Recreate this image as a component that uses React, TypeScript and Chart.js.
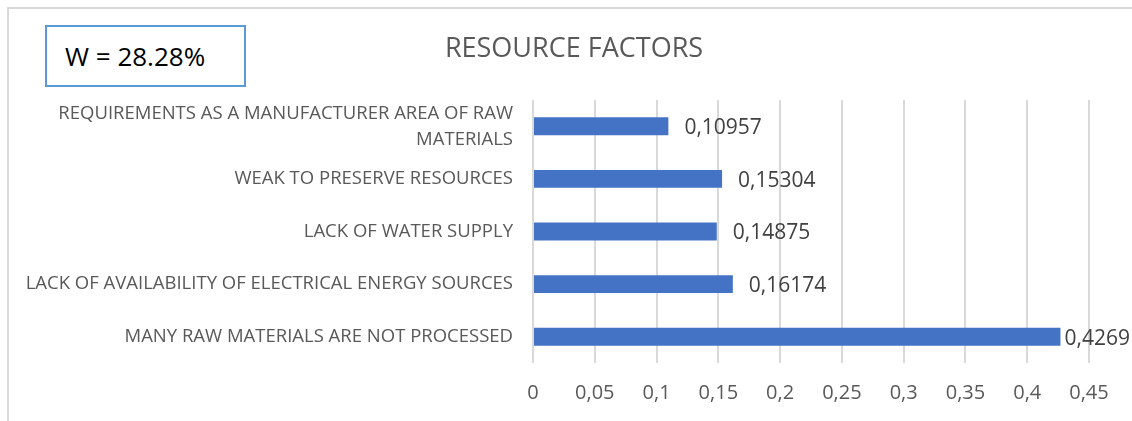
import React, { useEffect, useRef } from "react";
import { Chart, registerables } from "chart.js";

Chart.register(...registerables);

const categories: (string | string[])[] = [
  ["REQUIREMENTS AS A MANUFACTURER AREA OF RAW", "MATERIALS"],
  "WEAK TO PRESERVE RESOURCES",
  "LACK OF WATER SUPPLY",
  "LACK OF AVAILABILITY OF ELECTRICAL ENERGY SOURCES",
  "MANY RAW MATERIALS ARE NOT PROCESSED",
];
const values: number[] = [0.10957, 0.15304, 0.14875, 0.16174, 0.4269];
const valueLabels: string[] = ["0,10957", "0,15304", "0,14875", "0,16174", "0,4269"];
const axisMin = 0;
const axisMax = 0.45;
const axisStep = 0.05;
const chartTitle = "RESOURCE FACTORS";
const boxText = "W = 28.28%";

const FONT = "'Open Sans', 'Noto Sans', sans-serif";

const titlePlugin = {
  id: "offsetTitle",
  afterDraw(chart: any) {
    const ctx = chart.ctx;
    ctx.save();
    ctx.font = `27px ${FONT}`;
    ctx.fillStyle = "#595959";
    ctx.textAlign = "center";
    ctx.textBaseline = "middle";
    ctx.fillText(chartTitle, 565, 40);
    ctx.restore();
  },
};

const valueLabelPlugin = {
  id: "valueLabels",
  afterDatasetsDraw(chart: any) {
    const ctx = chart.ctx;
    const meta = chart.getDatasetMeta(0);
    ctx.save();
    ctx.font = `21px ${FONT}`;
    ctx.fillStyle = "#404040";
    ctx.textAlign = "left";
    ctx.textBaseline = "middle";
    meta.data.forEach((bar: any, i: number) => {
      const text = valueLabels[i];
      const w = ctx.measureText(text).width;
      let x = bar.x + 16;
      if (x + w > chart.width - 2) x = Math.max(bar.x + 4, chart.width - 2 - w);
      ctx.fillText(text, x, bar.y + 2);
    });
    ctx.restore();
  },
};

export default function App() {
  const ref = useRef<HTMLCanvasElement | null>(null);
  useEffect(() => {
    if (!ref.current) return;
    const chart = new Chart(ref.current, {
      type: "bar",
      data: {
        labels: categories,
        datasets: [
          {
            data: values,
            backgroundColor: "#4472C4",
            borderWidth: 0,
            barPercentage: 0.34,
            categoryPercentage: 1,
          },
        ],
      },
      options: {
        indexAxis: "y",
        animation: false,
        responsive: false,
        maintainAspectRatio: false,
        layout: { padding: { left: 0, right: 43, top: 91, bottom: 0 } },
        plugins: {
          legend: { display: false },
          tooltip: { enabled: false },
          title: { display: false },
        },
        scales: {
          x: {
            min: axisMin,
            max: axisMax,
            border: { display: false },
            grid: { color: "#d9d9d9", lineWidth: 2, drawTicks: false },
            ticks: {
              stepSize: axisStep,
              padding: 18,
              color: "#595959",
              font: { family: FONT, size: 20 },
              callback: (v: any) => String(Number(Number(v).toFixed(2))).replace(".", ","),
            },
          },
          y: {
            border: { display: false },
            grid: { display: false, drawTicks: false },
            afterFit: (scale: any) => {
              scale.width = 524;
            },
            ticks: {
              autoSkip: false,
              padding: 20,
              color: "#595959",
              font: { family: FONT, size: 18.5, lineHeight: "26px" },
            },
          },
        },
      },
      plugins: [valueLabelPlugin, titlePlugin],
    });
    return () => chart.destroy();
  }, []);

  return (
    <div
      style={{
        position: "fixed",
        left: 7,
        top: 7,
        width: 1125,
        height: 414,
        boxSizing: "border-box",
        borderTop: "2px solid #d9d9d9",
        borderLeft: "2px solid #d9d9d9",
        overflow: "hidden",
        background: "#fff",
      }}
    >
      <canvas ref={ref} width={1123} height={414} style={{ display: "block" }} />
      <div
        style={{
          position: "absolute",
          left: 36,
          top: 16,
          width: 201,
          height: 62,
          boxSizing: "border-box",
          border: "2px solid #5B9BD5",
          background: "#fff",
          fontFamily: FONT,
          fontSize: 26,
          color: "#000",
          lineHeight: "58px",
          paddingLeft: 18,
          whiteSpace: "nowrap",
        }}
      >
        {boxText}
      </div>
    </div>
  );
}
